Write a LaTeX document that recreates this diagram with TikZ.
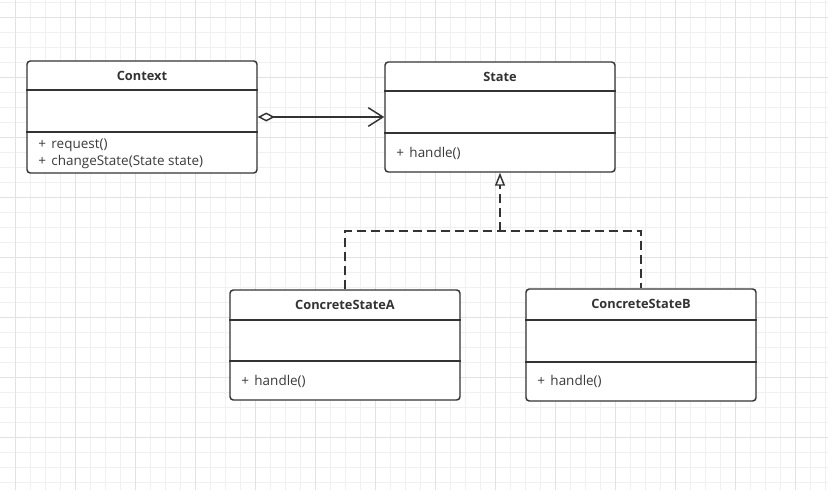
\documentclass[tikz,border=0pt]{standalone}
\usepackage{fontspec}
\setmainfont{Open Sans}
\usetikzlibrary{arrows.meta,fit}
\definecolor{linec}{HTML}{333333}
\definecolor{textc}{HTML}{333333}
\definecolor{methc}{HTML}{3A3A3A}
\definecolor{gridminor}{HTML}{F0F0F0}
\definecolor{gridmajor}{HTML}{E2E2E2}
\tikzset{
  cls/.style={draw=linec, line width=1.1pt, rounded corners=2.5pt, inner sep=0pt, fill=white},
  divider/.style={draw=linec, line width=1.1pt},
  title/.style={font=\fontsize{9.6}{11}\selectfont\bfseries, text=textc, inner sep=0pt},
  meth/.style={font=\fontsize{10.1}{12}\selectfont, text=methc, inner sep=0pt, anchor=west},
  assoc/.style={draw=linec, line width=1.1pt, {Diamond[open, length=12.75pt, width=6.75pt, line width=1.1pt]}-{Straight Barb[length=11pt, width=14pt, line width=1.1pt]}},
  realize/.style={draw=linec, line width=1.1pt, dash pattern=on 6.75pt off 3.75pt},
  realizetip/.style={-{Triangle[open, length=9.75pt, width=7.5pt, line width=1.1pt]}},
}
\begin{document}
\begin{tikzpicture}[x=0.75pt,y=-0.75pt]
\useasboundingbox (0,0) rectangle (828,490);
\fill[white] (0,0) rectangle (828,490);
% grid
\foreach \i in {15,30,...,825} \draw[gridminor, line width=0.75pt] (\i,0) -- (\i,490);
\foreach \j in {2,17,...,487} \draw[gridminor, line width=0.75pt] (0,\j) -- (828,\j);
\foreach \i in {15,75,...,825} \draw[gridmajor, line width=0.75pt] (\i,0) -- (\i,490);
\foreach \j in {17,77,...,487} \draw[gridmajor, line width=0.75pt] (0,\j) -- (828,\j);

% Context
\node[cls, fit={(27,61) (257,173)}] (ctx) {};
\draw[divider] (ctx.west |- 0,90) -- (ctx.east |- 0,90);
\draw[divider] (ctx.west |- 0,132) -- (ctx.east |- 0,132);
\node[title] (ctxT) at (142,75.5) {Context};
\node[meth] (ctxM1) at (38,145.5) {+\hspace{0.15em} request()};
\node[meth] (ctxM2) at (38,161.5) {+\hspace{0.15em} changeState(State state)};

% State
\node[cls, fit={(385,62) (615,172)}] (st) {};
\draw[divider] (st.west |- 0,91) -- (st.east |- 0,91);
\draw[divider] (st.west |- 0,133) -- (st.east |- 0,133);
\node[title] (stT) at (500,76.5) {State};
\node[meth] (stM) at (396,153.5) {+\hspace{0.15em} handle()};

% ConcreteStateA
\node[cls, fit={(230,290) (460,400)}] (ca) {};
\draw[divider] (ca.west |- 0,320) -- (ca.east |- 0,320);
\draw[divider] (ca.west |- 0,361) -- (ca.east |- 0,361);
\node[title] (caT) at (345,305) {ConcreteStateA};
\node[meth] (caM) at (241,381.5) {+\hspace{0.15em} handle()};

% ConcreteStateB
\node[cls, fit={(526,289) (756,401)}] (cb) {};
\draw[divider] (cb.west |- 0,320) -- (cb.east |- 0,320);
\draw[divider] (cb.west |- 0,362) -- (cb.east |- 0,362);
\node[title] (cbT) at (641,304) {ConcreteStateB};
\node[meth] (cbM) at (537,381.5) {+\hspace{0.15em} handle()};

% association
\draw[assoc] (ctx.east |- 0,117) -- (st.west |- 0,117);

% realization
\coordinate (mid) at (500,231);
\draw[realize] (ca.north) |- (mid) -| (cb.north);
\draw[realize, realizetip] (mid) -- (st.south);
\end{tikzpicture}
\end{document}
